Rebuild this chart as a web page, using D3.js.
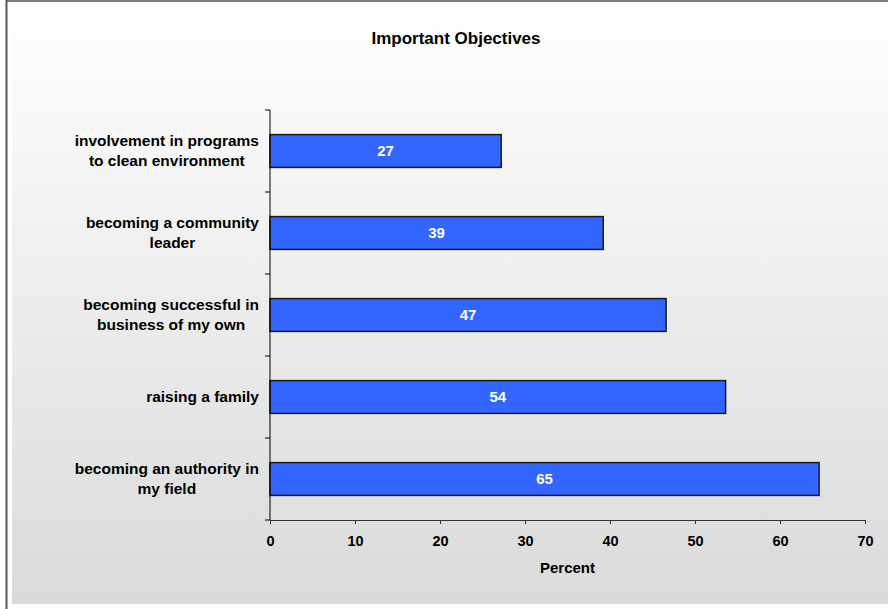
<!DOCTYPE html>
<html><head><meta charset="utf-8">
<script src="https://cdn.jsdelivr.net/npm/d3@7"></script>
<style>html,body{margin:0;padding:0;background:#fff;}svg{display:block;}</style>
</head><body>
<script>
const categories = [
  "involvement in programs|to clean environment",
  "becoming a community|leader",
  "becoming successful in|business of my own",
  "raising a family",
  "becoming an authority in|my field"
];
const values = [27.2, 39.2, 46.6, 53.6, 64.6];
const xTicks = [0, 10, 20, 30, 40, 50, 60, 70];
const title = "Important Objectives";
const xTitle = "Percent";

const W = 888, H = 609;
const svg = d3.select("body").append("svg").attr("width", W).attr("height", H);
const defs = svg.append("defs");
const grad = defs.append("linearGradient").attr("id","bg").attr("x1",0).attr("y1",0).attr("x2",0).attr("y2",1);
grad.append("stop").attr("offset","0%").attr("stop-color","#ffffff");
grad.append("stop").attr("offset","100%").attr("stop-color","#dadada");

svg.append("rect").attr("x",12).attr("y",2).attr("width",W-12).attr("height",602).attr("fill","url(#bg)");
svg.append("line").attr("x1",6).attr("x2",W).attr("y1",1).attr("y2",1).attr("stroke","#808080").attr("stroke-width",2);
svg.append("line").attr("x1",6.5).attr("x2",6.5).attr("y1",0).attr("y2",H).attr("stroke","#555").attr("stroke-width",2);

const font = "'Liberation Sans', Arial, sans-serif";
const x = d3.scaleLinear().domain([0,70]).range([270,865]);
const y = d3.scaleBand().domain(categories).range([110,520]).paddingInner(0.6).paddingOuter(0.3);

svg.append("text").attr("x",456).attr("y",44).attr("text-anchor","middle")
  .attr("font-family",font).attr("font-weight","bold").attr("font-size",17).text(title);

// bars
svg.selectAll("rect.bar").data(values).join("rect").attr("class","bar")
  .attr("x",x(0)).attr("y",(d,i)=>y(categories[i]))
  .attr("width",d=>x(d)-x(0)).attr("height",y.bandwidth())
  .attr("fill","#3366ff").attr("stroke","#1a1a1a").attr("stroke-width",1.5);

svg.selectAll("text.val").data(values).join("text").attr("class","val")
  .attr("x",d=>(x(0)+x(d))/2).attr("y",(d,i)=>y(categories[i])+y.bandwidth()/2)
  .attr("dy","0.35em").attr("text-anchor","middle").attr("fill","#fff")
  .attr("font-family",font).attr("font-weight","bold").attr("font-size",15)
  .text(d=>Math.round(d));

// y axis
const step = (520-110)/categories.length;
const ya = svg.append("g");
ya.append("line").attr("x1",270).attr("x2",270).attr("y1",110).attr("y2",520).attr("stroke","#000");
d3.range(categories.length+1).forEach(i=>{
  ya.append("line").attr("x1",265).attr("x2",270).attr("y1",110+i*step).attr("y2",110+i*step).attr("stroke","#000");
});
// category labels
categories.forEach((c,i)=>{
  const lines = c.split("|");
  const g = svg.append("g");
  const cy = y(c)+y.bandwidth()/2;
  const lh = 20;
  const t = g.selectAll("text").data(lines).join("text")
    .attr("font-family",font).attr("font-weight","bold").attr("font-size",15.5)
    .attr("text-anchor","middle").attr("dy","0.35em")
    .attr("y",(d,j)=>cy + (j-(lines.length-1)/2)*lh).text(d=>d);
  let maxW = 0; t.each(function(){maxW=Math.max(maxW,this.getComputedTextLength());});
  t.attr("x", 259 - maxW/2);
});

// x axis
const xa = svg.append("g").attr("transform","translate(0,520)")
  .call(d3.axisBottom(x).tickValues(xTicks).tickSize(4).tickPadding(12));
xa.select(".domain").attr("stroke","#333");
xa.selectAll(".tick line").attr("stroke","#333");
xa.selectAll("text").attr("font-family",font).attr("font-weight","bold").attr("font-size",14.5).attr("fill","#000");

svg.append("text").attr("x",(x(0)+x(70))/2).attr("y",573).attr("text-anchor","middle")
  .attr("font-family",font).attr("font-weight","bold").attr("font-size",15).text(xTitle);
</script>
</body></html>
